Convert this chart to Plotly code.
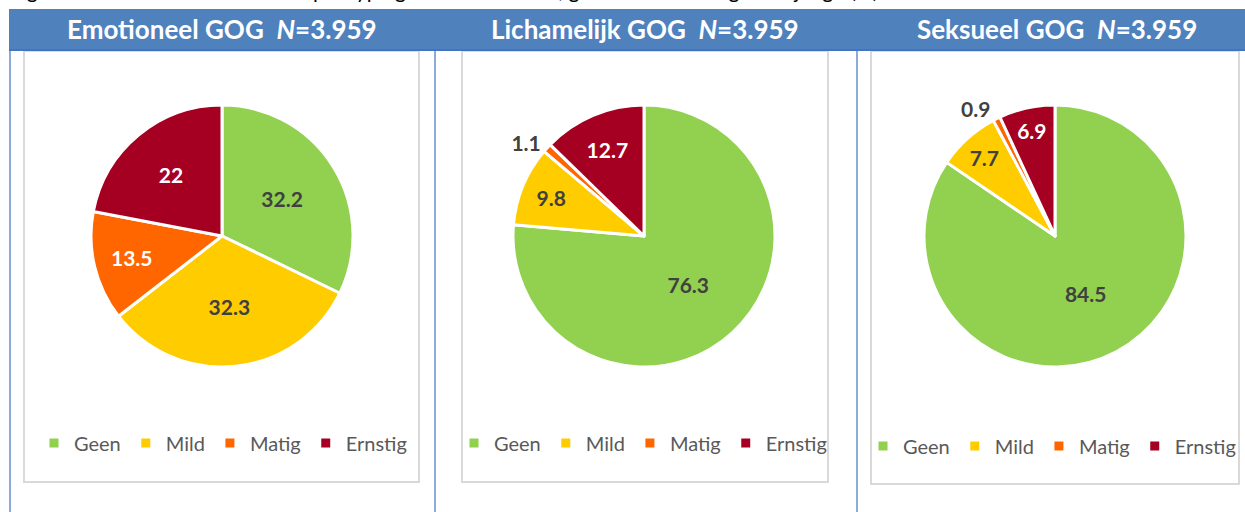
import plotly.graph_objects as go

categories = ["Geen", "Mild", "Matig", "Ernstig"]
emotioneel = [32.2, 32.3, 13.5, 22]
lichamelijk = [76.3, 9.8, 1.1, 12.7]
seksueel = [84.5, 7.7, 0.9, 6.9]
titles = ["Emotioneel GOG  <i>N</i>=3.959", "Lichamelijk GOG  <i>N</i>=3.959", "Seksueel GOG  <i>N</i>=3.959"]
caption = "Figuur 4.2  Prevalentie van GOG per type geweld naar ernst, gemeten over de gehele jeugd (%)"

colors = ["#92D050", "#FFCC00", "#FF6600", "#A50021"]
W, H = 1245, 512
DARK = "#404040"

def px(x):
    return x / W

def py(y):
    return 1 - y / H

fig = go.Figure()

panels = [
    (emotioneel, 222, [DARK, DARK, "white", "white"], ["inside", "inside", "inside", "inside"], "legend"),
    (lichamelijk, 644, [DARK, DARK, DARK, "white"], ["inside", "inside", "outside", "inside"], "legend2"),
    (seksueel, 1055, [DARK, DARK, DARK, "white"], ["inside", "inside", "outside", "inside"], "legend3"),
]
R = 131
CY = 236
for i, (vals, cx, tcol, tpos, leg) in enumerate(panels):
    # zero-width suffix keeps each panel's legend entries separate
    labels = [c + "\u200b" * i for c in categories]
    fig.add_trace(go.Pie(
        labels=labels, values=vals, sort=False, direction="clockwise", rotation=0,
        marker=dict(colors=colors, line=dict(color="white", width=3)),
        textinfo="value", textposition=tpos,
        insidetextorientation="horizontal",
        textfont=dict(family="Lato", size=21, color=tcol, weight="bold"),
        outsidetextfont=dict(family="Lato", size=21, color=DARK, weight="bold"),
        domain=dict(x=[px(cx - R), px(cx + R)], y=[py(CY + R), py(CY - R)]),
        legend=leg, hoverinfo="label+value",
    ))

shapes = []
# gray chart boxes
for x0, x1, y1 in [(24, 419, 482), (462, 828, 482), (871, 1239, 484)]:
    shapes.append(dict(type="rect", xref="paper", yref="paper", x0=px(x0), x1=px(x1), y0=py(y1), y1=py(51),
                       line=dict(color="#D9D9D9", width=2), fillcolor="white", layer="below"))
# vertical blue separators
for x in [10, 435, 857]:
    shapes.append(dict(type="line", xref="paper", yref="paper", x0=px(x), x1=px(x), y0=0, y1=py(50),
                       line=dict(color="#8EAADB", width=2), layer="below"))
# header band
shapes.append(dict(type="rect", xref="paper", yref="paper", x0=px(9), x1=1.0, y0=py(50), y1=py(9),
                   line=dict(width=0), fillcolor="#4F81BD", layer="below"))
shapes.append(dict(type="line", xref="paper", yref="paper", x0=px(9), x1=1.0, y0=py(50), y1=py(50),
                   line=dict(color="#4472C4", width=2), layer="below"))

annotations = []
for t, cx in zip(titles, [222, 645, 1057]):
    annotations.append(dict(text=t, x=px(cx), y=py(29), xref="paper", yref="paper", showarrow=False,
                            xanchor="center", yanchor="middle",
                            font=dict(family="Lato", size=26, color="white", weight="bold")))
annotations.append(dict(text=caption, x=px(8), y=py(4), xref="paper", yref="paper", showarrow=False,
                        xanchor="left", yanchor="bottom", font=dict(family="Lato", size=21, color="black")))

legend_common = dict(orientation="h", xanchor="center", yanchor="middle", bgcolor="rgba(0,0,0,0)",
                     font=dict(family="Lato", size=20, color="#595959"), traceorder="normal")

fig.update_layout(
    width=W, height=H, margin=dict(l=0, r=0, t=0, b=0),
    paper_bgcolor="white", plot_bgcolor="white",
    shapes=shapes, annotations=annotations,
    legend=dict(x=px(223), y=py(443), **legend_common),
    legend2=dict(x=px(643), y=py(443), **legend_common),
    legend3=dict(x=px(1052), y=py(446), **legend_common),
)

fig.write_html("out.html", config={"displayModeBar": False},
               post_script="document.body.style.margin='0';")
